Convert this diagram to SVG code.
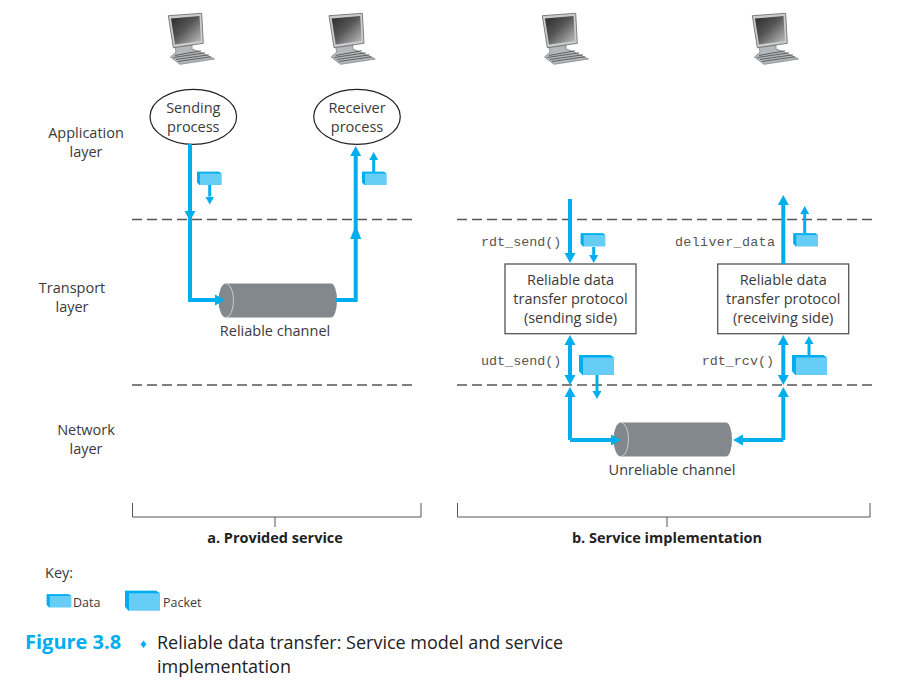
<svg xmlns="http://www.w3.org/2000/svg" xmlns:xlink="http://www.w3.org/1999/xlink" width="919" height="689" viewBox="0 0 919 689">
<style>
text{font-family:"Open Sans","Noto Sans",sans-serif;fill:#3a3a3c;font-size:14.5px;text-anchor:middle}
.mono{font-family:"Liberation Mono",monospace;fill:#555;font-size:13.4px;text-anchor:start}
.b{font-weight:700;fill:#222}
.s{text-anchor:start}
.sm{font-size:12.5px}
.cap{font-size:18px;fill:#222;text-anchor:start}
.fig{font-weight:700;font-size:20px;fill:#00aeef;text-anchor:start}
.dash{stroke:#555;stroke-width:1.3;stroke-dasharray:10 5;fill:none}
.brk{stroke:#555;stroke-width:1;fill:none}
.box{fill:#fff;stroke:#555;stroke-width:1.3}
.ell{fill:#fff;stroke:#222;stroke-width:1.2}
.big{stroke:#00aeef;stroke-width:4;fill:none}
.sma{stroke:#00aeef;stroke-width:3;fill:none}
.he{marker-end:url(#h)}
.hs{marker-start:url(#h)}
.hl{marker-end:url(#hl)}
.se{marker-end:url(#sh)}
</style>
<defs>
<marker id="h" markerUnits="userSpaceOnUse" markerWidth="12" markerHeight="12" refX="0" refY="6" orient="auto-start-reverse"><path d="M0 .5L10 6L0 11.500Z" fill="#00aeef"/></marker>
<marker id="hl" markerUnits="userSpaceOnUse" markerWidth="15" markerHeight="12" refX="0" refY="6" orient="auto"><path d="M0 .5L14 6L0 11.500Z" fill="#00aeef"/></marker>
<marker id="sh" markerUnits="userSpaceOnUse" markerWidth="10" markerHeight="10" refX="0" refY="5" orient="auto"><path d="M0 .5L8 5L0 9.500Z" fill="#00aeef"/></marker>
<linearGradient id="scr" x1="0" y1="0" x2="1" y2="1"><stop offset="0" stop-color="#2a2a2a"/><stop offset=".45" stop-color="#555"/><stop offset="1" stop-color="#c4c4c4"/></linearGradient>
<g id="pc">
<path d="M175 47L192 45V49L199 51.500L214.500 59L180 64.300L170.500 57L176 52Z" fill="#b5b8ba" stroke="#777" stroke-width=".7"/>
<path d="M175 55.500L201 50.800M173.500 57.500L205 52.800M176 59.500L209 54.800M178 61.500L211 56.800" stroke="#555" stroke-width=".9" fill="none"/>
<path d="M168.300 15.700L201.700 13.300L203.300 43.300L173.300 47.700Z" fill="#c9cbcc" stroke="#666" stroke-width=".8"/>
<path d="M171 18.500L199.500 16L201 41L175 44.500Z" fill="url(#scr)"/>
</g>
<g id="data">
<path d="M0 0H22L24.700 1.800V13.300H2.500L0 10.500Z" fill="#66cef6"/>
<path d="M0 0H22L24.700 1.800H3V13.300H2.500L0 10.500Z" fill="#00aeef"/>
</g>
<g id="packet">
<path d="M0 0H31L35 2.500V20H3.500L0 16Z" fill="#66cef6"/>
<path d="M0 0H31L35 2.500H4V20H3.500L0 16Z" fill="#00aeef"/>
</g>
</defs>
<rect width="919" height="689" fill="#fff"/>
<g id="computers">
<use id="computer-1" href="#pc"/>
<use id="computer-2" href="#pc" x="160.700"/>
<use id="computer-3" href="#pc" x="374"/>
<use id="computer-4" href="#pc" x="584"/>
</g>
<g id="layer-lines">
<path class="dash" d="M132 219.500H417M457 219.500H872M132 385H417M457 385H872"/>
</g>
<g id="layer-labels">
<text x="86" y="138">Application</text><text x="86" y="157">layer</text>
<text x="72" y="293">Transport</text><text x="72" y="312">layer</text>
<text x="86" y="435">Network</text><text x="86" y="454">layer</text>
</g>
<g id="sending-process"><ellipse class="ell" cx="193.300" cy="116.800" rx="43.300" ry="27.500"/><text x="193.300" y="113">Sending</text><text x="193.300" y="132">process</text></g>
<g id="receiver-process"><ellipse class="ell" cx="357" cy="116.800" rx="43.300" ry="27.500"/><text x="357" y="113">Receiver</text><text x="357" y="132">process</text></g>
<g id="reliable-channel">
<path d="M226 283.500H331A6 17 0 0 1 331 317.500H226A7.500 17 0 0 1 226 283.500Z" fill="#82888c"/>
<path d="M226 283.500A7.500 17 0 0 1 226 317.500" stroke="#c8cbcd" fill="none"/>
<text x="275" y="336">Reliable channel</text>
</g>
<g id="unreliable-channel">
<path d="M621 422.500H726A6 17 0 0 1 726 456.500H621A7.500 17 0 0 1 621 422.500Z" fill="#82888c"/>
<path d="M621 422.500A7.500 17 0 0 1 621 456.500" stroke="#c8cbcd" fill="none"/>
<text x="672" y="475">Unreliable channel</text>
</g>
<g id="rdt-sending"><rect class="box" x="505" y="264" width="131" height="69.700"/><text x="570.500" y="285">Reliable data</text><text x="570.500" y="304">transfer protocol</text><text x="570.500" y="323">(sending side)</text></g>
<g id="rdt-receiving"><rect class="box" x="717.700" y="264" width="131" height="69.700"/><text x="783.200" y="285">Reliable data</text><text x="783.200" y="304">transfer protocol</text><text x="783.200" y="323">(receiving side)</text></g>
<g id="packets">
<use href="#data" x="197" y="171.700"/>
<use href="#data" x="362" y="171.700"/>
<use href="#data" x="580.700" y="233.300"/>
<use href="#data" x="793.300" y="233.300"/>
<use href="#packet" x="579" y="355"/>
<use href="#packet" x="792" y="355"/>
</g>
<g id="connectors">
<path class="big he" d="M190 144V211"/>
<path class="big he" d="M190 215V300H215"/>
<path class="big hl" d="M336 300H355.700V239"/>
<path class="big he" d="M355.700 230V156"/>
<path class="big he" d="M570 199V253"/>
<path class="big he hs" d="M570 345V375"/>
<path class="big he" d="M570 440V397"/>
<path class="big he" d="M570 440H611"/>
<path class="big he" d="M783.300 264V205"/>
<path class="big he hs" d="M783.300 345V375"/>
<path class="big he" d="M783.300 440V397"/>
<path class="big he" d="M783.300 440H743"/>
<path class="sma se" d="M209.700 185V196.500"/>
<path class="sma se" d="M373.700 172V160"/>
<path class="sma se" d="M593.700 247V255"/>
<path class="sma se" d="M804.700 233V214"/>
<path class="sma se" d="M597 375V391"/>
<path class="sma se" d="M809 355V344"/>
</g>
<g id="interface-labels">
<text class="mono" x="481" y="246">rdt_send()</text>
<text class="mono" x="481" y="365">udt_send()</text>
<text class="mono" x="675" y="246" textLength="100">deliver_data</text>
<text class="mono" x="701.700" y="365">rdt_rcv()</text>
</g>
<g id="brackets">
<path class="brk" d="M132.500 503V517H421V503M275 517V527M457.500 503V517H870V503M667 517V527"/>
<text class="b" x="275" y="543">a. Provided service</text>
<text class="b" x="667" y="543">b. Service implementation</text>
</g>
<g id="key">
<text class="s" x="45" y="578">Key:</text>
<use href="#data" x="46.700" y="594.300"/>
<text class="s sm" x="73" y="607">Data</text>
<use href="#packet" x="125" y="590.700"/>
<text class="s sm" x="163" y="607">Packet</text>
</g>
<g id="caption">
<text class="fig" x="25" y="649">Figure 3.8</text>
<text class="s" x="140" y="648" style="fill:#00aeef;font-size:13px">♦</text>
<text class="cap" x="157" y="649">Reliable data transfer: Service model and service</text>
<text class="cap" x="157" y="673">implementation</text>
</g>
</svg>
